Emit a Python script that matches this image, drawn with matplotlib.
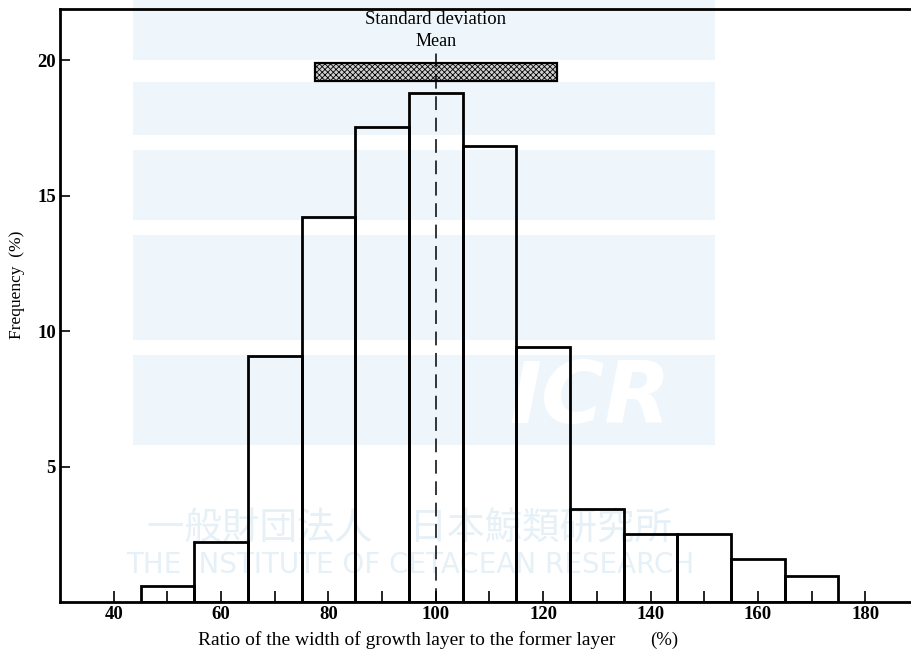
import numpy as np
import matplotlib
matplotlib.use("Agg")
import matplotlib.pyplot as plt
from matplotlib.patches import Rectangle

# histogram of growth layer width ratio (%)
bin_edges = [45, 55, 65, 75, 85, 95, 105, 115, 125, 135, 145, 155, 165, 175]
freq = [0.6, 2.2, 9.1, 14.2, 17.55, 18.8, 16.85, 9.4, 3.45, 2.5, 2.5, 1.6, 0.95]
mean_val = 100
sd_low, sd_high = 77.5, 122.5

x_ticks_major = [40, 60, 80, 100, 120, 140, 160, 180]
x_ticks_minor = [50, 70, 90, 110, 130, 150, 170]
y_ticks = [5, 10, 15, 20]

plt.rcParams['font.family'] = ['Liberation Serif', 'DejaVu Serif']
plt.rcParams['hatch.linewidth'] = 0.6
plt.rcParams['hatch.color'] = '#555555'

fig = plt.figure(figsize=(9.12, 6.66), dpi=100)

ax = fig.add_axes([60 / 912, 1 - 602 / 666, 852 / 912, 593 / 666])

# faint watermark in the background (figure coords, behind the bars)
wm_col = '#eff6fb'
for y0, y1 in [(0, 60), (82, 135), (150, 220), (235, 340), (355, 445)]:
    ax.add_patch(Rectangle((133 / 912, 1 - y1 / 666), (715 - 133) / 912,
                           (y1 - y0) / 666, transform=fig.transFigure,
                           facecolor=wm_col, edgecolor='none', zorder=0,
                           clip_on=False))
ax.text(590 / 912, 1 - 400 / 666, 'ICR', color='white', fontsize=62,
        fontweight='bold', style='italic', family='DejaVu Sans',
        ha='center', va='center', zorder=0.5, transform=fig.transFigure)
ax.text(410 / 912, 1 - 528 / 666, '一般財団法人　日本鯨類研究所', color='#e6f0f7',
        fontsize=27, family=['Noto Sans CJK JP', 'DejaVu Sans'],
        ha='center', va='center', zorder=0.5, transform=fig.transFigure)
ax.text(410 / 912, 1 - 565 / 666, 'THE INSTITUTE OF CETACEAN RESEARCH',
        color='#e6f0f7', fontsize=20, family='DejaVu Sans',
        ha='center', va='center', zorder=0.5, transform=fig.transFigure)

lefts = np.array(bin_edges[:-1])
widths = np.diff(bin_edges)
ax.bar(lefts, freq, width=widths, align='edge', facecolor='none',
       edgecolor='black', linewidth=2.0, zorder=3)

# mean line and standard deviation bar
ax.add_patch(Rectangle((sd_low, 19.25), sd_high - sd_low, 0.65,
                       facecolor='#cfcfcf', edgecolor='black', lw=1.6,
                       hatch='xxxxxx', zorder=5))
ax.plot([mean_val, mean_val], [0, 20.3], color='black', lw=1.1,
        ls=(0, (9, 5)), zorder=6)
ax.text(mean_val, 20.38, 'Mean', ha='center', va='bottom', fontsize=13)
ax.text(mean_val, 21.2, 'Standard deviation', ha='center', va='bottom',
        fontsize=13.5)

ax.set_xlim(30, 188.7)
ax.set_ylim(0, 21.9)

ax.set_xticks(x_ticks_major)
ax.set_xticks(x_ticks_minor, minor=True)
ax.set_yticks(y_ticks)
ax.tick_params(axis='x', which='major', direction='in', length=8, width=1.2,
               labelsize=13.5, pad=3)
ax.tick_params(axis='x', which='minor', direction='in', length=8, width=1.2)
ax.tick_params(axis='y', direction='in', length=7, width=1.2, labelsize=13.5,
               pad=3)
for lab in ax.get_xticklabels() + ax.get_yticklabels():
    lab.set_fontweight('bold')

for side in ['left', 'bottom', 'top']:
    ax.spines[side].set_linewidth(2.0)
ax.spines['right'].set_visible(False)

fig.text(198 / 912, 1 - 640 / 666,
         'Ratio of the width of growth layer to the former layer',
         ha='left', va='center', fontsize=14)
fig.text(664 / 912, 1 - 640 / 666, '(%)', ha='center', va='center',
         fontsize=13.5)
fig.text(17 / 912, 1 - 285 / 666, 'Frequency  (%)', rotation=90,
         ha='center', va='center', fontsize=12.5)

fig.savefig('out.png', dpi=100)
